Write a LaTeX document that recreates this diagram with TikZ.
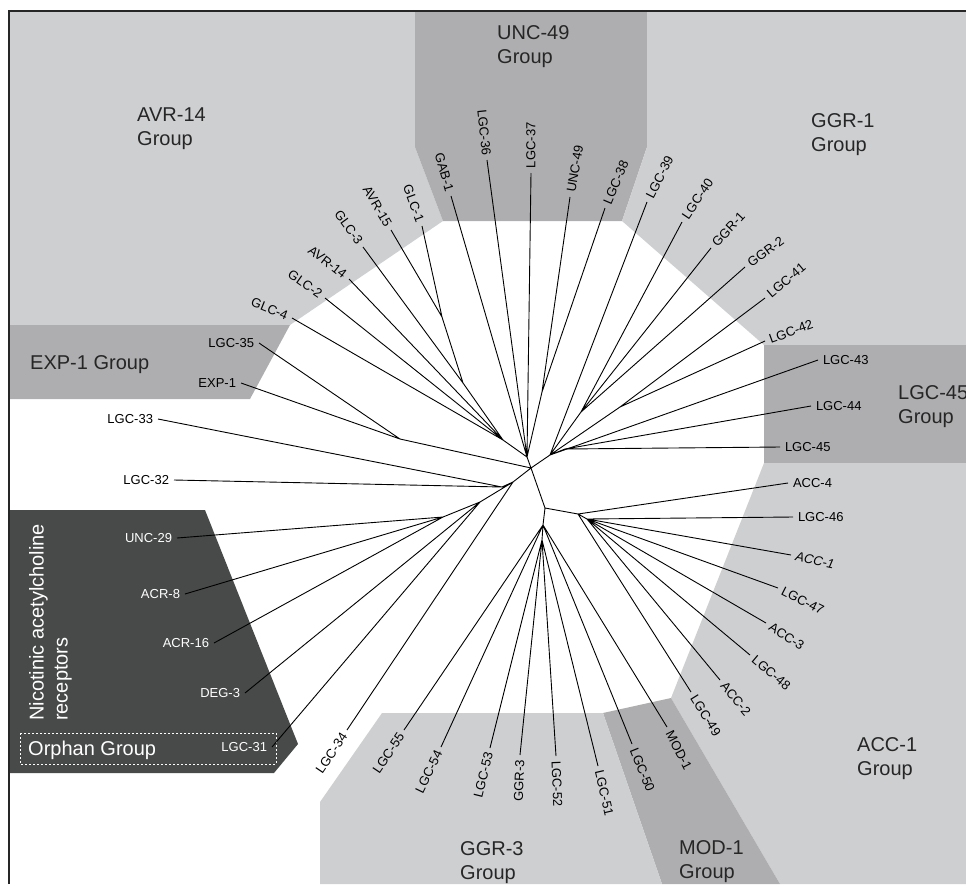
\documentclass[tikz,border=0pt]{standalone}
\usepackage{fontspec}
\setmainfont{Liberation Sans}
\usetikzlibrary{positioning}

\definecolor{grpLight}{RGB}{206,207,209}
\definecolor{grpMid}{RGB}{174,174,176}
\definecolor{grpDark}{RGB}{72,73,73}

\tikzset{
  treeline/.style={line width=0.9pt, black},
  leaflbl/.style={font=\fontsize{13}{15}\selectfont, inner sep=2.5pt, outer sep=2.5pt},
  lblL/.style={leaflbl, anchor=east, rotate=#1},
  lblL/.default=0,
  lblR/.style={leaflbl, anchor=west, rotate=#1},
  lblR/.default=0,
  grptext/.style={font=\fontsize{20}{24}\selectfont, align=left, anchor=north west, inner sep=0pt, text=black!85},
}

\begin{document}
\begin{tikzpicture}[x=1pt,y=-1pt]
  \useasboundingbox (0,0) rectangle (966,884);

  \fill[grpLight] (9,11) -- (415,11) -- (415,147) -- (443,221) -- (290,325) -- (9,325) -- cycle;
  \fill[grpMid] (415,11) -- (647,11) -- (647,147) -- (622,221) -- (443,221) -- (415,147) -- cycle;
  \fill[grpLight] (647,11) -- (966,11) -- (966,345) -- (764,345) -- (622,221) -- (647,147) -- cycle;
  \fill[grpMid] (9,325) -- (290,325) -- (250,399) -- (9,399) -- cycle;
  \fill[grpMid] (764,345) rectangle (966,463);
  \fill[grpLight] (764,463) -- (966,463) -- (966,884) -- (780,884) -- (671,698) -- cycle;
  \fill[grpMid] (603,713) -- (671,698) -- (780,884) -- (662,884) -- cycle;
  \fill[grpLight] (382,713) -- (603,713) -- (662,884) -- (320,884) -- (320,802) -- cycle;
  \fill[grpDark] (9,510) -- (205,510) -- (298,744) -- (274,773) -- (9,773) -- cycle;
  \draw[line width=1.4pt, black!85] (9,884) -- (9,11) -- (966,11);

  \node[grptext] (avrgrp) at (137,108) {AVR-14\\Group};
  \node[grptext] (uncgrp) at (497,25) {UNC-49\\Group};
  \node[grptext] (ggronegrp) at (811,113) {GGR-1\\Group};
  \node[grptext] (expgrp) at (30,355) {EXP-1 Group};
  \node[grptext] (lgcgrp) at (898,385) {LGC-45\\Group};
  \node[grptext] (accgrp) at (857,737) {ACC-1\\Group};
  \node[grptext] (modgrp) at (679,840) {MOD-1\\Group};
  \node[grptext] (ggrthreegrp) at (460,841) {GGR-3\\Group};
  \node[grptext, text=white, rotate=90] (nachgrp) at (29,721) {Nicotinic acetylcholine\\receptors};
  \node[grptext, text=white] (orphgrp) at (28,741) {Orphan Group};
  \draw[white, line width=1pt, dash pattern=on 2pt off 2pt] (20,733) rectangle (276,764);

  \coordinate (root) at (531,468);
  \coordinate (u0) at (527,457);
  \coordinate (u1) at (542,392);
  \coordinate (g1) at (442,317);
  \coordinate (g2) at (463,383);
  \coordinate (g3) at (503,440);
  \coordinate (e1) at (400,439);
  \coordinate (l1) at (502,487);
  \coordinate (l2) at (513,482);
  \coordinate (n1) at (443,517);
  \coordinate (n2) at (480,502);
  \coordinate (b1) at (545,508);
  \coordinate (b2) at (543,525);
  \coordinate (b3) at (542,540);
  \coordinate (a1) at (578,514);
  \coordinate (a2) at (587,519);
  \coordinate (r0) at (550,455);
  \coordinate (r1) at (581,412);
  \coordinate (r2) at (620,407);
  \coordinate (r3) at (565,449);

  \node[lblL] (lgc35) at (259,343) {LGC-35};
  \node[lblL] (exp1) at (241,383) {EXP-1};
  \node[lblL] (lgc33) at (158,419) {LGC-33};
  \node[lblL] (lgc32) at (174,480) {LGC-32};
  \node[lblL, text=white] (unc29) at (177,538) {UNC-29};
  \node[lblL, text=white] (acr8) at (185,594) {ACR-8};
  \node[lblL, text=white] (acr16) at (214,643) {ACR-16};
  \node[lblL, text=white] (deg3) at (245,693) {DEG-3};
  \node[lblL, text=white] (lgc31) at (272,747) {LGC-31};
  \node[lblL=56] (lgc34) at (347,730) {LGC-34};
  \node[lblL=56] (lgc55) at (404,730) {LGC-55};
  \node[lblL=64] (lgc54) at (441,747) {LGC-54};
  \node[lblL=76] (lgc53) at (490,748) {LGC-53};
  \node[lblL=88] (ggr3) at (520,755) {GGR-3};
  \node[lblR=-88] (lgc52) at (556,756) {LGC-52};
  \node[lblR=-77] (lgc51) at (598,766) {LGC-51};
  \node[lblR=-68] (lgc50) at (632,744) {LGC-50};
  \node[lblR=-63] (mod1) at (667,727) {MOD-1};
  \node[lblR=-58] (lgc49) at (691,692) {LGC-49};
  \node[lblR=-50] (acc2) at (720,680) {ACC-2};
  \node[lblR=-40] (lgc48) at (750,655) {LGC-48};
  \node[lblR=-33] (acc3) at (766,623) {ACC-3};
  \node[lblR=-27] (lgc47) at (778,588) {LGC-47};
  \node[lblR=-12] (acc1) at (791,555) {\itshape ACC-1};
  \node[lblR] (lgc46) at (793,517) {LGC-46};
  \node[lblR] (acc4) at (788,483) {ACC-4};
  \node[lblR] (lgc45) at (780,447) {LGC-45};
  \node[lblR] (lgc44) at (811,406) {LGC-44};
  \node[lblR] (lgc43) at (818,360) {LGC-43};
  \node[lblR=20] (lgc42) at (765,341) {LGC-42};
  \node[lblR=40] (lgc41) at (765,298) {LGC-41};
  \node[lblR=36] (ggr2) at (745,267) {GGR-2};
  \node[lblR=47] (ggr1) at (711,248) {GGR-1};
  \node[lblR=56] (lgc40) at (682,222) {LGC-40};
  \node[lblR=63] (lgc39) at (647,202) {LGC-39};
  \node[lblR=67] (lgc38) at (605,208) {LGC-38};
  \node[lblR=80] (unc49) at (570,197) {UNC-49};
  \node[lblR=90] (lgc37) at (531,173) {LGC-37};
  \node[lblL=-84] (lgc36) at (487,160) {LGC-36};
  \node[lblL=-74] (gab1) at (451,196) {GAB-1};
  \node[lblL=-70] (glc1) at (422,226) {GLC-1};
  \node[lblL=-60] (avr15) at (391,230) {AVR-15};
  \node[lblL=-54] (glc3) at (363,247) {GLC-3};
  \node[lblL=-38] (avr14) at (349,279) {AVR-14};
  \node[lblL=-35] (glc2) at (325,298) {GLC-2};
  \node[lblL=-22] (glc4) at (292,318) {GLC-4};

  \draw[treeline] (root) -- (u0) (root) -- (e1) (root) -- (l2) (root) -- (b1) (root) -- (r0);
  \draw[treeline] (u0) -- (g3) (u0) -- (gab1.east) (u0) -- (lgc36.east) (u0) -- (lgc37.west) (u0) -- (u1);
  \draw[treeline] (u1) -- (unc49.west) (u1) -- (lgc38.west);
  \draw[treeline] (g3) -- (g2) (g3) -- (avr14.east) (g3) -- (glc2.east) (g3) -- (glc4.east);
  \draw[treeline] (g2) -- (g1) (g2) -- (glc3.east);
  \draw[treeline] (g1) -- (glc1.east) (g1) -- (avr15.east);
  \draw[treeline] (e1) -- (lgc35.east) (e1) -- (exp1.east);
  \draw[treeline] (l2) -- (l1) (l2) -- (n2) (l2) -- (lgc34.east);
  \draw[treeline] (l1) -- (lgc33.east) (l1) -- (lgc32.east);
  \draw[treeline] (n2) -- (n1) (n2) -- (deg3.east) (n2) -- (lgc31.east);
  \draw[treeline] (n1) -- (unc29.east) (n1) -- (acr8.east) (n1) -- (acr16.east);
  \draw[treeline] (b1) -- (b2) (b1) -- (a1);
  \draw[treeline] (b2) -- (b3) (b2) -- (lgc55.east) (b2) -- (lgc54.east) (b2) -- (lgc50.west) (b2) -- (mod1.west);
  \draw[treeline] (b3) -- (lgc53.east) (b3) -- (ggr3.east) (b3) -- (lgc52.west) (b3) -- (lgc51.west);
  \draw[treeline] (a1) -- (a2) (a1) -- (acc4.west) (a1) -- (lgc49.west);
  \draw[treeline] (a2) -- (lgc46.west) (a2) -- (acc1.west) (a2) -- (lgc47.west) (a2) -- (acc3.west) (a2) -- (lgc48.west) (a2) -- (acc2.west);
  \draw[treeline] (r0) -- (r1) (r0) -- (r2) (r0) -- (r3) (r0) -- (lgc39.west) (r0) -- (lgc43.west);
  \draw[treeline] (r1) -- (lgc40.west) (r1) -- (ggr1.west) (r1) -- (ggr2.west);
  \draw[treeline] (r2) -- (lgc41.west) (r2) -- (lgc42.west);
  \draw[treeline] (r3) -- (lgc44.west) (r3) -- (lgc45.west);
\end{tikzpicture}
\end{document}
